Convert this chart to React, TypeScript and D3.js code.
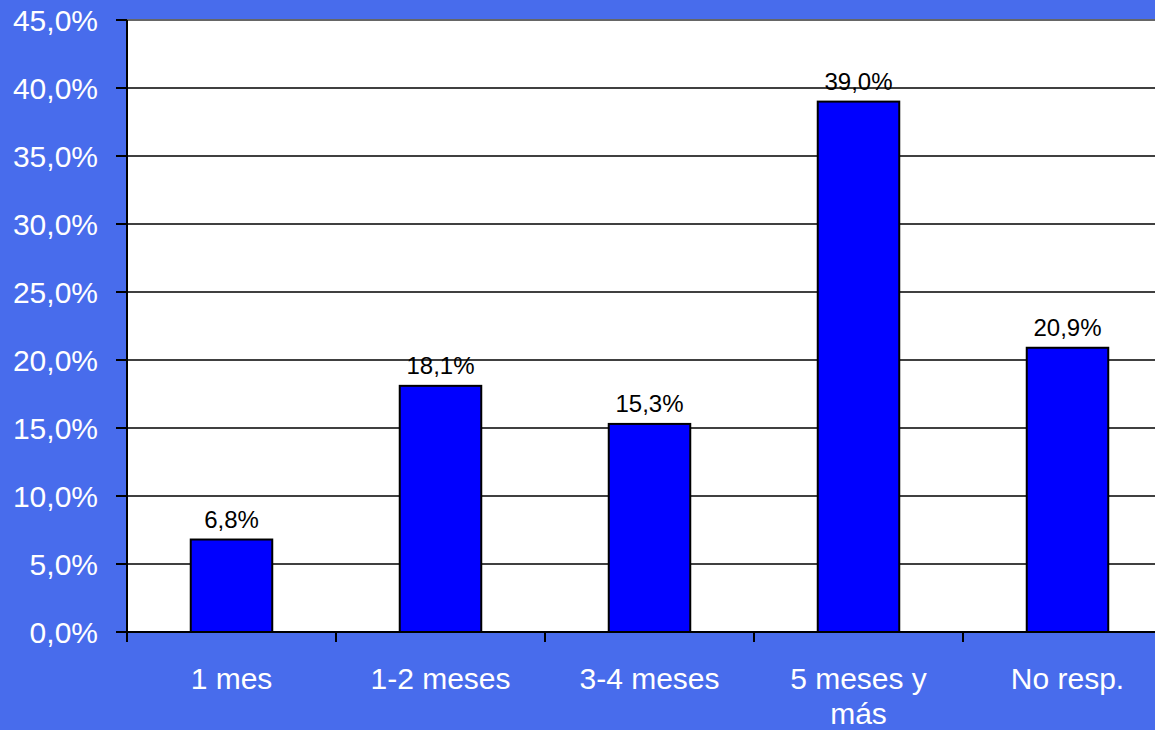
import React from "react";
import * as d3 from "d3";

const categories = ["1 mes", "1-2 meses", "3-4 meses", "5 meses y\nmás", "No resp."];
const values = [6.8, 18.1, 15.3, 39.0, 20.9];
const yTicks = [0, 5, 10, 15, 20, 25, 30, 35, 40, 45];

const W = 1155;
const H = 730;
const BG = "#486CEC";
const FONT = "'Liberation Sans', Arial, sans-serif";

const fmt = (v: number) => v.toFixed(1).replace(".", ",") + "%";

export default function App() {
  const left = 127;
  const top = 20;
  const bottom = 632;
  const band = 209;
  const right = left + band * categories.length;

  const x = d3
    .scaleBand<string>()
    .domain(categories)
    .range([left, right])
    .paddingInner(0.61)
    .paddingOuter(0.305);
  const xb = d3.scaleBand<string>().domain(categories).range([left, right]);
  const y = d3.scaleLinear().domain([0, 45]).range([bottom, top]);

  return (
    <svg
      width={W}
      height={H}
      style={{ position: "absolute", left: 0, top: 0, display: "block" }}
      fontFamily={FONT}
    >
      <rect x={0} y={0} width={W} height={H} fill={BG} />
      <rect x={left} y={top} width={right - left} height={bottom - top} fill="#FFFFFF" />
      {yTicks.map((t) => (
        <g key={t}>
          {t > 0 && (
            <line
              x1={left}
              x2={right}
              y1={y(t)}
              y2={y(t)}
              stroke={t === 45 ? "#666" : "#000"}
              strokeWidth={t === 45 ? 2 : 1.5}
            />
          )}
          <line x1={left - 11} x2={left} y1={y(t)} y2={y(t)} stroke="#000" strokeWidth={2} />
          <text
            x={98}
            y={y(t)}
            dy="0.36em"
            textAnchor="end"
            fill="#FFFFFF"
            fontSize={30}
          >
            {fmt(t)}
          </text>
        </g>
      ))}
      {categories.map((c, i) => (
        <g key={c}>
          <rect
            x={x(c)}
            y={y(values[i])}
            width={x.bandwidth()}
            height={bottom - y(values[i])}
            fill="#0000FF"
            stroke="#000"
            strokeWidth={2}
          />
          <text
            x={(x(c) as number) + x.bandwidth() / 2}
            y={y(values[i]) - 12}
            textAnchor="middle"
            fill="#000"
            fontSize={24}
          >
            {fmt(values[i])}
          </text>
          {c.split("\n").map((line, j) => (
            <text
              key={j}
              x={(xb(c) as number) + xb.bandwidth() / 2}
              y={689 + j * 35}
              textAnchor="middle"
              fill="#FFFFFF"
              fontSize={30}
            >
              {line}
            </text>
          ))}
        </g>
      ))}
      <line x1={left} x2={right} y1={bottom} y2={bottom} stroke="#000" strokeWidth={2} />
      <line x1={left} x2={left} y1={top} y2={bottom} stroke="#000" strokeWidth={2} />
      {categories.map((c) => (
        <line
          key={"t" + c}
          x1={xb(c)}
          x2={xb(c)}
          y1={bottom}
          y2={bottom + 10}
          stroke="#000"
          strokeWidth={2}
        />
      ))}
    </svg>
  );
}
